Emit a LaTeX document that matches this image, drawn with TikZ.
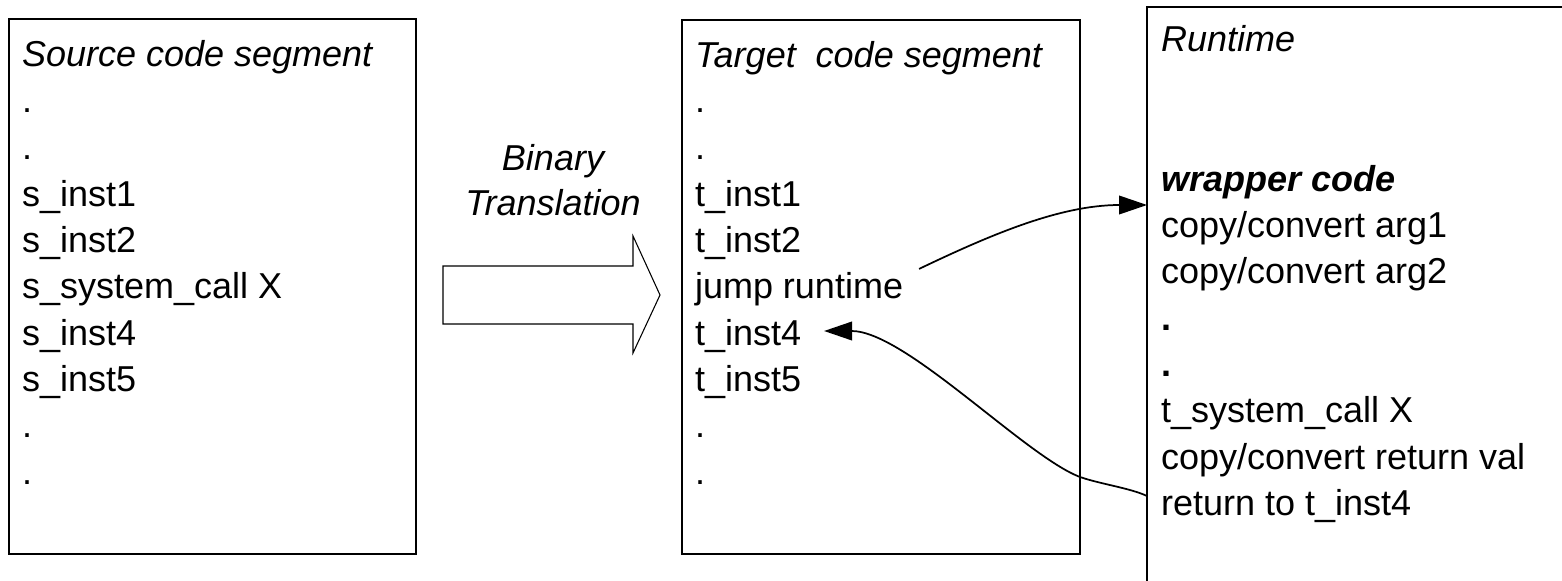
\documentclass[tikz,border=0pt]{standalone}
\usepackage{fontspec}
\setmainfont{Liberation Sans}
\usetikzlibrary{arrows.meta,calc}

\begin{document}
\begin{tikzpicture}[x=0.75pt,y=-0.75pt,
  every node/.style={inner sep=0pt,outer sep=0pt},
  seg/.style={draw=black,line width=1.5pt},
  txt/.style={anchor=base west,font=\fontsize{27}{32}\selectfont},
  ttl/.style={txt,font=\fontsize{27}{32}\selectfont\itshape},
  link/.style={draw=black,line width=1.3pt,-{Triangle[length=21pt,width=14pt]}},
  bigarrow/.style={draw=black,line width=0.8pt,fill=white}]
\useasboundingbox (0,0) rectangle (1562,581);
\clip (0,0) rectangle (1562,581);

% segment boxes
\node[seg,anchor=north west,minimum width=407*0.75pt,minimum height=535*0.75pt] (src) at (9,19) {};
\node[seg,anchor=north west,minimum width=398*0.75pt,minimum height=534*0.75pt] (tgt) at (682,20) {};
\node[seg,anchor=north west,minimum width=500*0.75pt,minimum height=650*0.75pt] (rt) at (1147,7) {};

% source code segment
\node[ttl] (s0) at (22,67)  {Source code segment};
\node[txt] (s1) at (22,113) {.};
\node[txt] (s2) at (22,160) {.};
\node[txt] (s3) at (22,206) {s\_inst1};
\node[txt] (s4) at (22,252) {s\_inst2};
\node[txt] (s5) at (22,298) {s\_system\_call X};
\node[txt] (s6) at (22,345) {s\_inst4};
\node[txt] (s7) at (22,391) {s\_inst5};
\node[txt] (s8) at (22,437) {.};
\node[txt] (s9) at (22,484) {.};

% target code segment
\node[ttl] (t0) at (695,68)  {Target\ \ code segment};
\node[txt] (t1) at (695,113) {.};
\node[txt] (t2) at (695,160) {.};
\node[txt] (t3) at (695,206) {t\_inst1};
\node[txt] (t4) at (695,252) {t\_inst2};
\node[txt] (jump) at (695,298) {jump runtime};
\node[txt] (tinst4) at (695,345) {t\_inst4};
\node[txt] (t7) at (695,391) {t\_inst5};
\node[txt] (t8) at (695,437) {.};
\node[txt] (t9) at (695,484) {.};

% runtime
\node[ttl] (r0) at (1161,52)  {Runtime};
\node[txt,font=\fontsize{27}{32}\selectfont\bfseries\itshape] (wrap) at (1161,191) {wrapper code};
\node[txt] (r2) at (1161,237) {copy/convert arg1};
\node[txt] (r3) at (1161,283) {copy/convert arg2};
\node[txt] (r4) at (1161,330) {\textbf{.}};
\node[txt] (r5) at (1161,376) {\textbf{.}};
\node[txt] (r6) at (1161,422) {t\_system\_call X};
\node[txt] (r7) at (1161,469) {copy/convert return val};
\node[txt] (ret) at (1161,515) {return to t\_inst4};

% translation arrow
\node[anchor=base,font=\fontsize{27}{32}\selectfont\itshape] (bt1) at (553,171) {Binary};
\node[anchor=base,font=\fontsize{27}{32}\selectfont\itshape] (bt2) at (553,215) {Translation};
\draw[bigarrow] (443,266) -- (633,266) -- (633,236) -- (660,295) -- (633,353) -- (633,324) -- (443,324) -- cycle;

% call into the runtime and return
\coordinate (callsrc) at ($(jump.north east)+(16,-3)$);
\coordinate (calldst) at ($(rt.north west)+(0,198)$);
\draw[link] (callsrc) .. controls (990,235) and (1060,205) .. (calldst);

\coordinate (retsrc) at ($(rt.north west)+(0,489)$);
\coordinate (retmid) at (1080,477);
\coordinate (retdst) at ($(tinst4.base east)+(23,-14)$);
\draw[link] (retsrc) .. controls (1130,488) and (1100,484) .. (retmid)
  .. controls (1025,456) and (905,331) .. (retdst);
\end{tikzpicture}
\end{document}
